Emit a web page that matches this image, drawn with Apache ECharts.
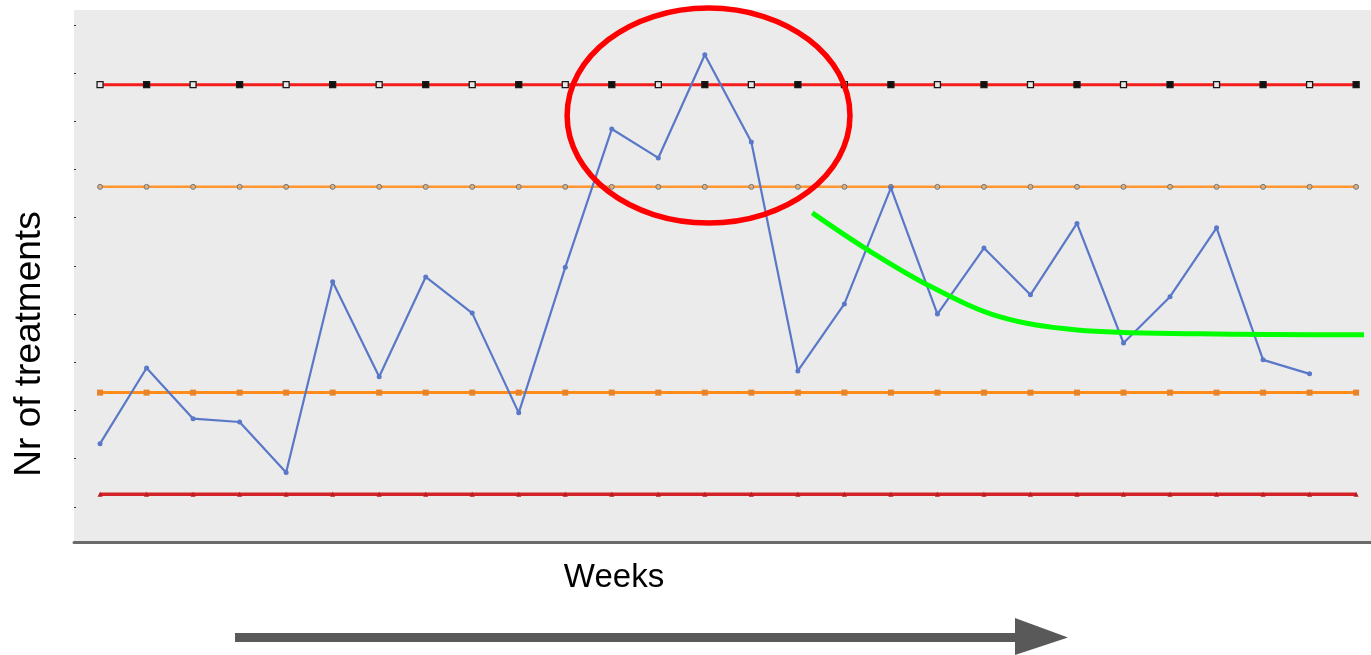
<!DOCTYPE html>
<html>
<head>
<meta charset="utf-8">
<script src="https://cdn.jsdelivr.net/npm/echarts@6/dist/echarts.min.js"></script>
<style>
html,body{margin:0;padding:0;background:#ffffff;}
#c{width:1371px;height:655px;}
</style>
</head>
<body>
<div id="c"></div>
<script>
// ---- data ----
const weeks = [0,1,2,3,4,5,6,7,8,9,10,11,12,13,14,15,16,17,18,19,20,21,22,23,24,25,26];
const treatments = [2.31,3.88,2.83,2.76,1.71,5.67,3.70,5.77,5.02,2.95,5.97,8.84,8.24,10.38,8.57,3.82,5.21,7.62,5.00,6.37,5.40,6.88,4.40,5.36,6.79,4.05,3.76];
const limitWeeks = [0,1,2,3,4,5,6,7,8,9,10,11,12,13,14,15,16,17,18,19,20,21,22,23,24,25,26,27];
const upperControl = 9.76;
const upperWarning = 7.64;
const lowerWarning = 3.37;
const lowerControl = 1.26;
const yTicks = [1,2,3,4,5,6,7,8,9,10,11];
const trendX = [15.31,16.49,17.86,19.35,21.00,23.65,27.17];
const trendY = [7.10,6.34,5.57,4.94,4.67,4.59,4.57];
const highlightCenter = [13.08, 9.12];
const highlightRadius = [3.04, 2.23];
const yTitle = 'Nr of treatments';
const xTitle = 'Weeks';

function limitSeries(level){ return limitWeeks.map(w => [w, level]); }

const chart = echarts.init(document.getElementById('c'), null, {renderer:'canvas'});
const FONT = 'Liberation Sans';

chart.setOption({
  animation: false,
  backgroundColor: '#ffffff',
  grid: {left: 74, right: 0, top: 10, bottom: 113, show: true, backgroundColor: '#ebebeb', borderWidth: 0},
  xAxis: {
    type: 'value', min: -0.56, max: 27.32,
    axisLine: {show: true, onZero: false, lineStyle: {color: '#6a6a6a', width: 3, type: [2,1]}},
    axisTick: {show: false}, axisLabel: {show: false}, splitLine: {show: false}
  },
  yAxis: {
    type: 'value', min: 0.27, max: 11.31,
    axisLine: {show: false, onZero: false},
    axisTick: {show: true, inside: true, length: 2, customValues: yTicks, lineStyle: {color: '#333', width: 1}},
    axisLabel: {show: false}, splitLine: {show: false}
  },
  series: [
    {type: 'line', data: limitSeries(lowerControl), silent: true, symbol: 'triangle', symbolSize: 5,
     lineStyle: {color: '#d42229', width: 3.5}, itemStyle: {color: '#b81c24'}, z: 2},
    {type: 'line', data: limitSeries(lowerWarning), silent: true, symbol: 'rect', symbolSize: 6,
     lineStyle: {color: '#ff8c1a', width: 3}, itemStyle: {color: '#e8832a'}, z: 2},
    {type: 'line', data: limitSeries(upperWarning), silent: true, symbol: 'circle', symbolSize: 5,
     lineStyle: {color: '#ff9630', width: 2.5}, itemStyle: {color: '#d8b080', borderColor: '#777', borderWidth: 1}, z: 2},
    {type: 'line', data: limitSeries(upperControl), silent: true, symbol: 'rect', symbolSize: 6,
     lineStyle: {color: '#f51c1c', width: 3},
     itemStyle: {color: p => (p.dataIndex % 2 ? '#111111' : '#e8e8e8'), borderColor: '#1a1a1a', borderWidth: 1.3}, z: 2},
    {type: 'line', data: weeks.map((w,i) => [w, treatments[i]]), silent: true, symbol: 'circle', symbolSize: 5,
     lineStyle: {color: '#5a78c8', width: 2.2}, itemStyle: {color: '#5a78c8'}, z: 3},
    {type: 'line', data: trendX.map((x,i) => [x, trendY[i]]), silent: true, symbol: 'none',
     smooth: 0.35,
     lineStyle: {color: '#00ff00', width: 5}, z: 4}
  ]
});

const c0 = chart.convertToPixel({gridIndex: 0}, highlightCenter);
const cx1 = chart.convertToPixel({gridIndex: 0}, [highlightCenter[0] + highlightRadius[0], highlightCenter[1] + highlightRadius[1]]);

chart.setOption({
  graphic: [
    {type: 'ellipse', shape: {cx: c0[0], cy: c0[1], rx: Math.abs(cx1[0]-c0[0]), ry: Math.abs(c0[1]-cx1[1])},
     style: {fill: 'none', stroke: '#ff0000', lineWidth: 5.5}, z: 100, silent: true},
    {type: 'text', x: 614, y: 578, z: 100, silent: true,
     style: {text: xTitle, fontSize: 33, fontFamily: FONT, fill: '#000', align: 'center', verticalAlign: 'middle'}},
    {type: 'text', x: 30, y: 344, rotation: Math.PI/2, z: 100, silent: true,
     style: {text: yTitle, fontSize: 37, fontFamily: FONT, fill: '#000', align: 'center', verticalAlign: 'middle'}},
    {type: 'rect', shape: {x: 235, y: 633, width: 782, height: 9}, style: {fill: '#595959'}, z: 100, silent: true},
    {type: 'polygon', shape: {points: [[1015, 618], [1068, 637.5], [1015, 655]]}, style: {fill: '#595959'}, z: 100, silent: true}
  ]
});
</script>
</body>
</html>
